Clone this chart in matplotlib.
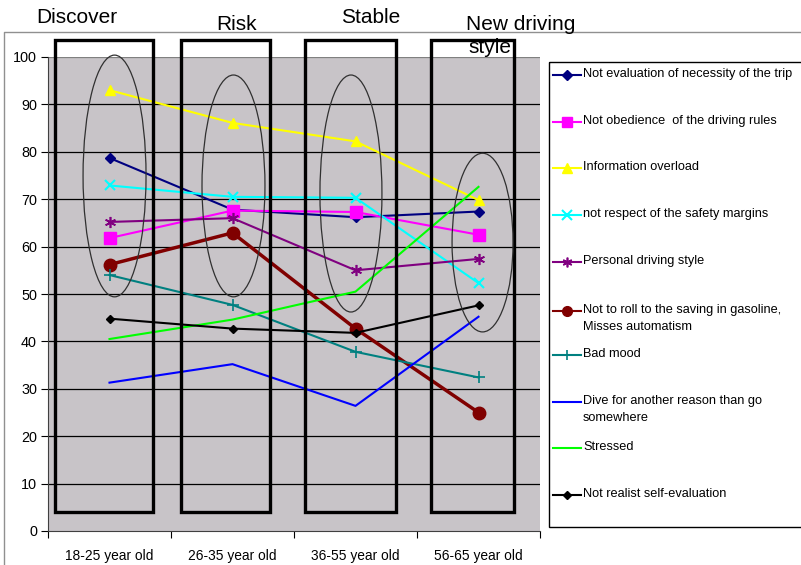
import matplotlib
matplotlib.use("Agg")
import matplotlib.pyplot as plt
from matplotlib.patches import Rectangle, Ellipse
from matplotlib import font_manager

categories = ["18-25 year old", "26-35 year old", "36-55 year old", "56-65 year old"]
phase_titles = ["Discover", "Risk", "Stable", "New driving\nstyle"]

series_names = [
    "Not evaluation of necessity of the trip",
    "Not obedience  of the driving rules",
    "Information overload",
    "not respect of the safety margins",
    "Personal driving style",
    "Not to roll to the saving in gasoline,\nMisses automatism",
    "Bad mood",
    "Dive for another reason than go\nsomewhere",
    "Stressed",
    "Not realist self-evaluation",
]
not_evaluation = [78.7, 67.8, 66.2, 67.4]
not_obedience = [61.8, 67.6, 67.3, 62.5]
info_overload = [93.0, 86.1, 82.2, 69.8]
safety_margins = [72.9, 70.5, 70.3, 52.3]
personal_style = [65.2, 66.0, 55.0, 57.4]
not_roll = [56.2, 62.9, 42.7, 25.0]
bad_mood = [54.0, 47.7, 37.8, 32.4]
dive_reason = [31.3, 35.2, 26.4, 45.2]
stressed = [40.5, 44.6, 50.5, 72.6]
self_eval = [44.8, 42.7, 41.8, 47.6]

series_values = [not_evaluation, not_obedience, info_overload, safety_margins,
                 personal_style, not_roll, bad_mood, dive_reason, stressed, self_eval]

styles = [
    dict(color="#000080", marker="D", ms=5, lw=1.5),
    dict(color="#FF00FF", marker="s", ms=8, lw=1.5),
    dict(color="#FFFF00", marker="^", ms=7, lw=1.5),
    dict(color="#00FFFF", marker="x", ms=7, lw=1.5, mew=1.5),
    dict(color="#800080", marker=(6, 2, 0), ms=8, lw=1.5, mew=1.2),
    dict(color="#800000", marker="o", ms=9, lw=2.5),
    dict(color="#008080", marker="+", ms=9, lw=1.5, mew=1.2),
    dict(color="#0000FF", marker=None, ms=0, lw=1.5),
    dict(color="#00FF00", marker=None, ms=0, lw=1.5),
    dict(color="#000000", marker="D", ms=4, lw=1.5),
]

installed = {f.name for f in font_manager.fontManager.ttflist}
if "Liberation Sans Narrow" in installed:
    narrow = ["Liberation Sans Narrow", "DejaVu Sans"]
    leg_fs, tick_fs = 11.5, 11.5
else:
    narrow = ["Liberation Sans", "DejaVu Sans"]
    leg_fs, tick_fs = 9.2, 9.9
regular = ["Liberation Sans", "DejaVu Sans"]

W, H = 801, 565
fig = plt.figure(figsize=(W / 100, H / 100), dpi=100)
fig.patch.set_facecolor("white")

# main axes: plot area px x 48..540, y 57..531
L, R, T, B = 48, 540, 57, 531
ax = fig.add_axes([L / W, 1 - B / H, (R - L) / W, (B - T) / H])
ax.set_facecolor("#c8c4c8")
ax.set_xlim(-0.5, 3.5)
ax.set_ylim(0, 100)

for yv in range(10, 100, 10):
    ax.axhline(yv, color="black", lw=0.9, zorder=1)
ax.axhline(100, color="#808080", lw=0.9, zorder=1)

xs = list(range(len(categories)))
for vals, st in zip(series_values, styles):
    kw = dict(color=st["color"], lw=st["lw"], zorder=3)
    if st["marker"] is not None:
        kw.update(marker=st["marker"], ms=st["ms"], mfc=st["color"], mec=st["color"],
                  mew=st.get("mew", 1.0))
    ax.plot(xs, vals, **kw)

ax.set_yticks(range(0, 101, 10))
ax.set_xticks([-0.5, 0.5, 1.5, 2.5, 3.5])
ax.set_xticklabels([])
ax.set_xticks(xs, minor=True)
ax.set_xticklabels(categories, minor=True, fontfamily=narrow, fontsize=tick_fs)
ax.tick_params(axis="x", which="minor", length=0, pad=13)
ax.tick_params(axis="x", which="major", length=5, direction="out", color="black")
ax.tick_params(axis="y", length=5, direction="out", pad=3)
for lab in ax.get_yticklabels():
    lab.set_fontfamily(narrow)
    lab.set_fontsize(tick_fs + 0.5)
for s in ["top", "right"]:
    ax.spines[s].set_visible(False)
ax.spines["left"].set_color("#404040")
ax.spines["bottom"].set_color("#404040")

# phase boxes (data coords)
boxes = [(-0.443, 0.354), (0.581, 1.305), (1.589, 2.329), (2.614, 3.289)]
for x0, x1 in boxes:
    ax.add_patch(Rectangle((x0, 4.0), x1 - x0, 103.6 - 4.0, fill=False, ec="black",
                           lw=2.4, clip_on=False, zorder=4))

# ellipses (data coords)
ells = [(0.041, 0.512, 100.4, 49.4), (1.008, 0.512, 96.2, 49.4),
        (1.963, 0.504, 96.2, 46.2), (3.033, 0.496, 79.7, 42.0)]
for cx, w, ytop, ybot in ells:
    ax.add_patch(Ellipse((cx, (ytop + ybot) / 2), w, ytop - ybot, fill=False,
                         ec="#303030", lw=0.9, clip_on=False, zorder=4))

# overlay in pixel coords
ov = fig.add_axes([0, 0, 1, 1], zorder=5)
ov.set_xlim(0, W)
ov.set_ylim(H, 0)
ov.axis("off")

# outer chart border
ov.plot([4, 4, 801], [565, 32, 32], color="#909090", lw=1.0)

# phase titles
ov.text(77, 23, phase_titles[0], fontsize=15, fontfamily=regular, ha="center", va="baseline")
ov.text(237, 30, phase_titles[1], fontsize=15, fontfamily=regular, ha="center", va="baseline")
ov.text(371, 23, phase_titles[2], fontsize=15, fontfamily=regular, ha="center", va="baseline")
ov.text(466, 30, "New driving", fontsize=15, fontfamily=regular, ha="left", va="baseline")
ov.text(468, 53, "style", fontsize=15, fontfamily=regular, ha="left", va="baseline")

# legend
ov.add_patch(Rectangle((549, 62), 300, 465, fill=False, ec="black", lw=1.0))
entry_y = [75, 122, 168, 215, 262, 311, 355, 402, 448, 495]
for name, st, yy in zip(series_names, styles, entry_y):
    ov.plot([553, 581], [yy, yy], color=st["color"], lw=1.5)
    if st["marker"] is not None:
        ov.plot([567], [yy], marker=st["marker"], ms=min(st["ms"], 7), color=st["color"],
                mfc=st["color"], mec=st["color"], mew=st.get("mew", 1.0))
    ov.text(583, yy - 7, name, fontsize=leg_fs, fontfamily=narrow, ha="left", va="top",
            linespacing=1.55)

fig.savefig("out.png", dpi=100)
